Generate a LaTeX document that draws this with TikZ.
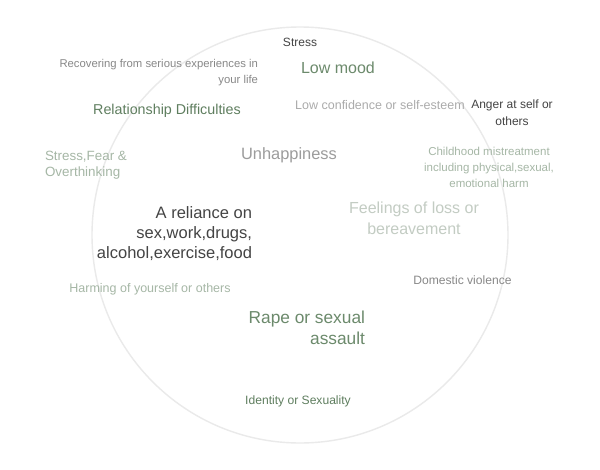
\documentclass[tikz,border=0pt]{standalone}
\usepackage{fontspec}
\setmainfont{Liberation Sans}
\newcommand\myfs[2]{\fontsize{#1}{#2}\selectfont}
\definecolor{ringc}{HTML}{EAEAEA}
\definecolor{cdark}{HTML}{444444}
\definecolor{cmid}{HTML}{888888}
\definecolor{cgrey}{HTML}{9C9C9C}
\definecolor{clight}{HTML}{ABABAB}
\definecolor{cgreen}{HTML}{5F7E5F}
\definecolor{cgreenb}{HTML}{6C8A6C}
\definecolor{cpale}{HTML}{A6B7A6}
\definecolor{cpaler}{HTML}{C3CCC3}
\begin{document}
\begin{tikzpicture}[x=1pt,y=-1pt,
  lbl/.style={inner sep=0pt, outer sep=0pt}]
\useasboundingbox (0,0) rectangle (600,469);
\fill[white] (0,0) rectangle (600,469);
\node[circle, draw=ringc, line width=1.4pt, minimum size=416pt, inner sep=0pt] (ring) at (300,235) {};

\node[lbl, font=\myfs{12}{15}, text=cdark] (stress) at (300,42) {Stress};
\node[lbl, font=\myfs{16}{19}, text=cgreenb] (lowmood) at (338,68) {Low mood};
\node[lbl, font=\myfs{11.3}{16}, text=cmid, align=right, anchor=east] (recover) at (258,73) {Recovering from serious experiences in\\your life};
\node[lbl, font=\myfs{14.3}{17}, text=cgreen] (relation) at (167,111) {Relationship Difficulties};
\node[lbl, font=\myfs{12.5}{15}, text=clight] (lowconf) at (380,105) {Low confidence or self-esteem};
\node[lbl, font=\myfs{12}{16.5}, text=cdark, align=center] (anger) at (512,112.5) {Anger at self or\\others};
\node[lbl, font=\myfs{13.4}{16}, text=cpale, align=left, anchor=west] (stressfear) at (45,165) {Stress,Fear \&\\Overthinking};
\node[lbl, font=\myfs{16.4}{19}, text=cgrey] (unhappy) at (289,155) {Unhappiness};
\node[lbl, font=\myfs{11.5}{16}, text=cpale, align=center] (child) at (489,167) {Childhood mistreatment\\including physical,sexual,\\emotional harm};
\node[lbl, font=\myfs{16}{21}, text=cpaler, align=center] (loss) at (414,218.5) {Feelings of loss or\\bereavement};
\node[lbl, font=\myfs{16.5}{20}, text=cdark, align=right, anchor=east] (reliance) at (252,234) {A reliance on\\sex,work,drugs,\\alcohol,exercise,food};
\node[lbl, font=\myfs{12.5}{15}, text=cpale] (harm) at (150,289) {Harming of yourself or others};
\node[lbl, font=\myfs{12.1}{15}, text=cmid] (domestic) at (462.5,280) {Domestic violence};
\node[lbl, font=\myfs{17.3}{21}, text=cgreenb, align=right, anchor=east] (rape) at (365,327.5) {Rape or sexual\\assault};
\node[lbl, font=\myfs{12.1}{15}, text=cgreen] (identity) at (298,401) {Identity or Sexuality};
\end{tikzpicture}
\end{document}
